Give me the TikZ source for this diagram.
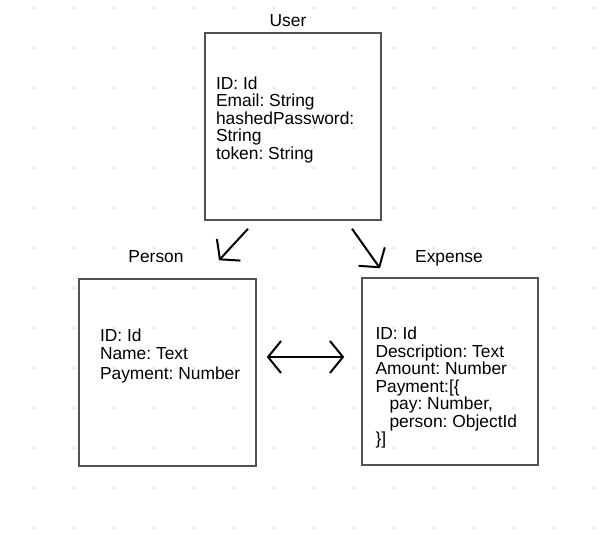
\documentclass[tikz,border=0pt]{standalone}
\usepackage{fontspec}
\setmainfont{Liberation Sans}
\usetikzlibrary{arrows.meta,positioning}

\def\dotsep{40}

\begin{document}
\frenchspacing
\begin{tikzpicture}[x=1pt, y=-1pt, line width=2pt,
		font=\fontsize{17.4pt}{17.5pt}\selectfont]
		\tikzstyle{grid dot}
		=[fill=black!12]
		\tikzstyle{entity}
		=[rectangle, draw=black!68, line width=1.5pt, inner sep=0pt]
		\tikzstyle{fields}
		=[anchor=west, align=left, inner sep=0pt]
		\tikzstyle{title}
		=[anchor=base, inner sep=0pt]
		\tikzstyle{link}
		=[-{Straight Barb[length=13pt,width=32pt]}, draw=black]

		\useasboundingbox (0,0) rectangle (610,539);

		% Draw the dotted background
		\foreach \i in {0,...,14} \foreach \j in {0,...,13}
		\fill[grid dot] (34+\dotsep*\i, 8+\dotsep*\j) circle (1.5pt);

		% Draw the three entity boxes
		\node[entity, minimum width=176pt, minimum height=187pt] (user) at (293,126.5) {};
		\node[entity, minimum width=177pt, minimum height=187pt] (person) at (167.5,372.5) {};
		\node[entity, minimum width=176pt, minimum height=187pt] (expense) at (450,371.5) {};

		% Box titles
		\node[title] (user-t) at (288,26) {User};
		\node[title] (person-t) at (156,262) {Person};
		\node[title] (expense-t) at (449,262) {Expense};

		% Fields of each box
		\node[fields] (user-f) at (215,119.5)
		{ID: Id\\Email: String\\hashedPassword:\\String\\token: String};
		\node[fields] (person-f) at (99,356)
		{ID: Id\\Name: Text\\[3pt]Payment: Number};
		\node[fields] (expense-f) at (374.5,387.5)
		{ID: Id\\Description: Text\\Amount: Number\\Payment:[\{\\
			\hspace*{14pt}pay: Number,\\\hspace*{14pt}person: ObjectId\\\}]};

		% Connect the user with person and expense
		\draw[link] ([shift={(-45,8)}]user.south) -- ([shift={(51.5,-18)}]person.north);
		\draw[link] ([shift={(59,8)}]user.south) -- ([shift={(-70,-9)}]expense.north);

		% Person and expense point at each other
		\draw[link, {Straight Barb[length=13pt,width=32pt]}-{Straight Barb[length=13pt,width=32pt]}]
		([shift={(10,-15.5)}]person.east) -- ([shift={(-17,-14.5)}]expense.west);
	\end{tikzpicture}
\end{document}
